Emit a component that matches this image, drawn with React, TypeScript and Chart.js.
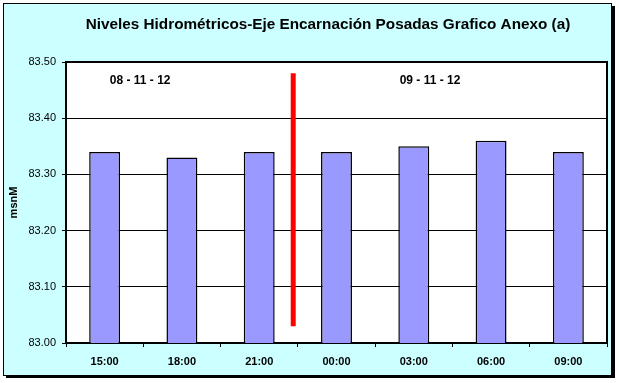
import React, { useEffect, useRef } from "react";
import { Chart, registerables } from "chart.js";

Chart.register(...registerables);

const categories = ["15:00", "18:00", "21:00", "00:00", "03:00", "06:00", "09:00"];
const levels = [83.34, 83.33, 83.34, 83.34, 83.35, 83.36, 83.34];
const yTicks = [83.0, 83.1, 83.2, 83.3, 83.4, 83.5];
const dayLabels = ["08 - 11 - 12", "09 - 11 - 12"];
const dayLabelX = [0.46, 4.21];
const dayLabelY = [83.466, 83.466];
const dividerX = [2.44, 2.44];
const dividerY = [83.03, 83.48];

const TITLE = "Niveles Hidrométricos-Eje Encarnación Posadas Grafico Anexo (a)";

const framePlugin = {
  id: "frame",
  beforeDraw(chart: any) {
    const { ctx, chartArea } = chart;
    ctx.save();
    ctx.fillStyle = "#ffffff";
    ctx.fillRect(0, 0, chart.width, chart.height);
    ctx.fillStyle = "#000000";
    ctx.fillRect(6, 6, 609, 372);
    ctx.fillStyle = "#CCFFFF";
    ctx.fillRect(3, 3, 609, 373);
    ctx.strokeStyle = "#000000";
    ctx.lineWidth = 1;
    ctx.strokeRect(3.5, 3.5, 608, 372);
    ctx.fillStyle = "#ffffff";
    ctx.fillRect(chartArea.left, chartArea.top, chartArea.right - chartArea.left, chartArea.bottom - chartArea.top);
    ctx.fillStyle = "#000000";
    ctx.font = "bold 15.3px Arial, 'Liberation Sans', sans-serif";
    ctx.textAlign = "center";
    ctx.textBaseline = "middle";
    ctx.fillText(TITLE, 328, 25);
    ctx.restore();
  },
  afterDatasetsDraw(chart: any) {
    const { ctx, chartArea, scales } = chart;
    const x = scales.x;
    const y = scales.y;
    ctx.save();
    ctx.strokeStyle = "#000000";
    ctx.lineWidth = 2;
    ctx.beginPath();
    ctx.moveTo(chartArea.left, chartArea.top);
    ctx.lineTo(chartArea.right, chartArea.top);
    ctx.lineTo(chartArea.right, chartArea.bottom);
    ctx.stroke();
    ctx.strokeStyle = "#FF0000";
    ctx.lineWidth = 5;
    ctx.beginPath();
    ctx.moveTo(x.getPixelForValue(dividerX[0]), y.getPixelForValue(dividerY[0]));
    ctx.lineTo(x.getPixelForValue(dividerX[1]), y.getPixelForValue(dividerY[1]));
    ctx.stroke();
    ctx.fillStyle = "#000000";
    ctx.font = "bold 12px Arial, 'Liberation Sans', sans-serif";
    ctx.textAlign = "center";
    ctx.textBaseline = "middle";
    dayLabels.forEach((t, i) => {
      ctx.fillText(t, x.getPixelForValue(dayLabelX[i]), y.getPixelForValue(dayLabelY[i]));
    });
    ctx.restore();
  },
};

export default function App() {
  const ref = useRef<HTMLCanvasElement>(null);
  useEffect(() => {
    const prevMargin = document.body.style.margin;
    document.body.style.margin = "0";
    const canvas = ref.current!;
    const chart = new Chart(canvas, {
      type: "bar",
      data: {
        labels: categories,
        datasets: [
          {
            label: "msnM",
            data: levels,
            backgroundColor: "#9999FF",
            borderColor: "#000000",
            borderWidth: 1.5,
            barPercentage: 0.4,
            categoryPercentage: 1,
          },
        ],
      },
      options: {
        responsive: false,
        animation: false,
        devicePixelRatio: 1,
        layout: { padding: { top: 62, right: 12, left: 0, bottom: 0 } },
        plugins: {
          legend: { display: false },
          title: { display: false },
          tooltip: { enabled: false },
        },
        scales: {
          x: {
            afterFit: (s: any) => {
              s.height = 40;
            },
            grid: {
              offset: true,
              drawOnChartArea: false,
              drawTicks: true,
              tickLength: 4,
              color: "#000000",
              lineWidth: 1,
            },
            border: { display: true, color: "#000000", width: 2 },
            ticks: {
              color: "#000000",
              padding: 8,
              maxRotation: 0,
              autoSkip: false,
              font: { family: "Arial, 'Liberation Sans', sans-serif", size: 11, weight: "bold" },
            },
          },
          y: {
            min: yTicks[0],
            max: yTicks[yTicks.length - 1],
            afterFit: (s: any) => {
              s.width = 66;
            },
            afterBuildTicks: (s: any) => {
              s.ticks = yTicks.map((v) => ({ value: v }));
            },
            grid: {
              color: "#000000",
              lineWidth: 1,
              drawTicks: true,
              tickLength: 4,
            },
            border: { display: true, color: "#000000", width: 2 },
            title: {
              display: true,
              text: "msnM",
              color: "#000000",
              padding: { top: 7, bottom: 0 },
              font: { family: "Arial, 'Liberation Sans', sans-serif", size: 11, weight: "bold" },
            },
            ticks: {
              color: "#000000",
              padding: 6,
              callback: (v: any) => Number(v).toFixed(2),
              font: { family: "Arial, 'Liberation Sans', sans-serif", size: 11 },
            },
          },
        },
      },
      plugins: [framePlugin],
    });
    return () => {
      chart.destroy();
      document.body.style.margin = prevMargin;
    };
  }, []);
  return (
    <div style={{ position: "fixed", left: 0, top: 0, width: 619, height: 383 }}>
      <canvas ref={ref} width={619} height={383} style={{ display: "block", width: 619, height: 383 }} />
    </div>
  );
}
